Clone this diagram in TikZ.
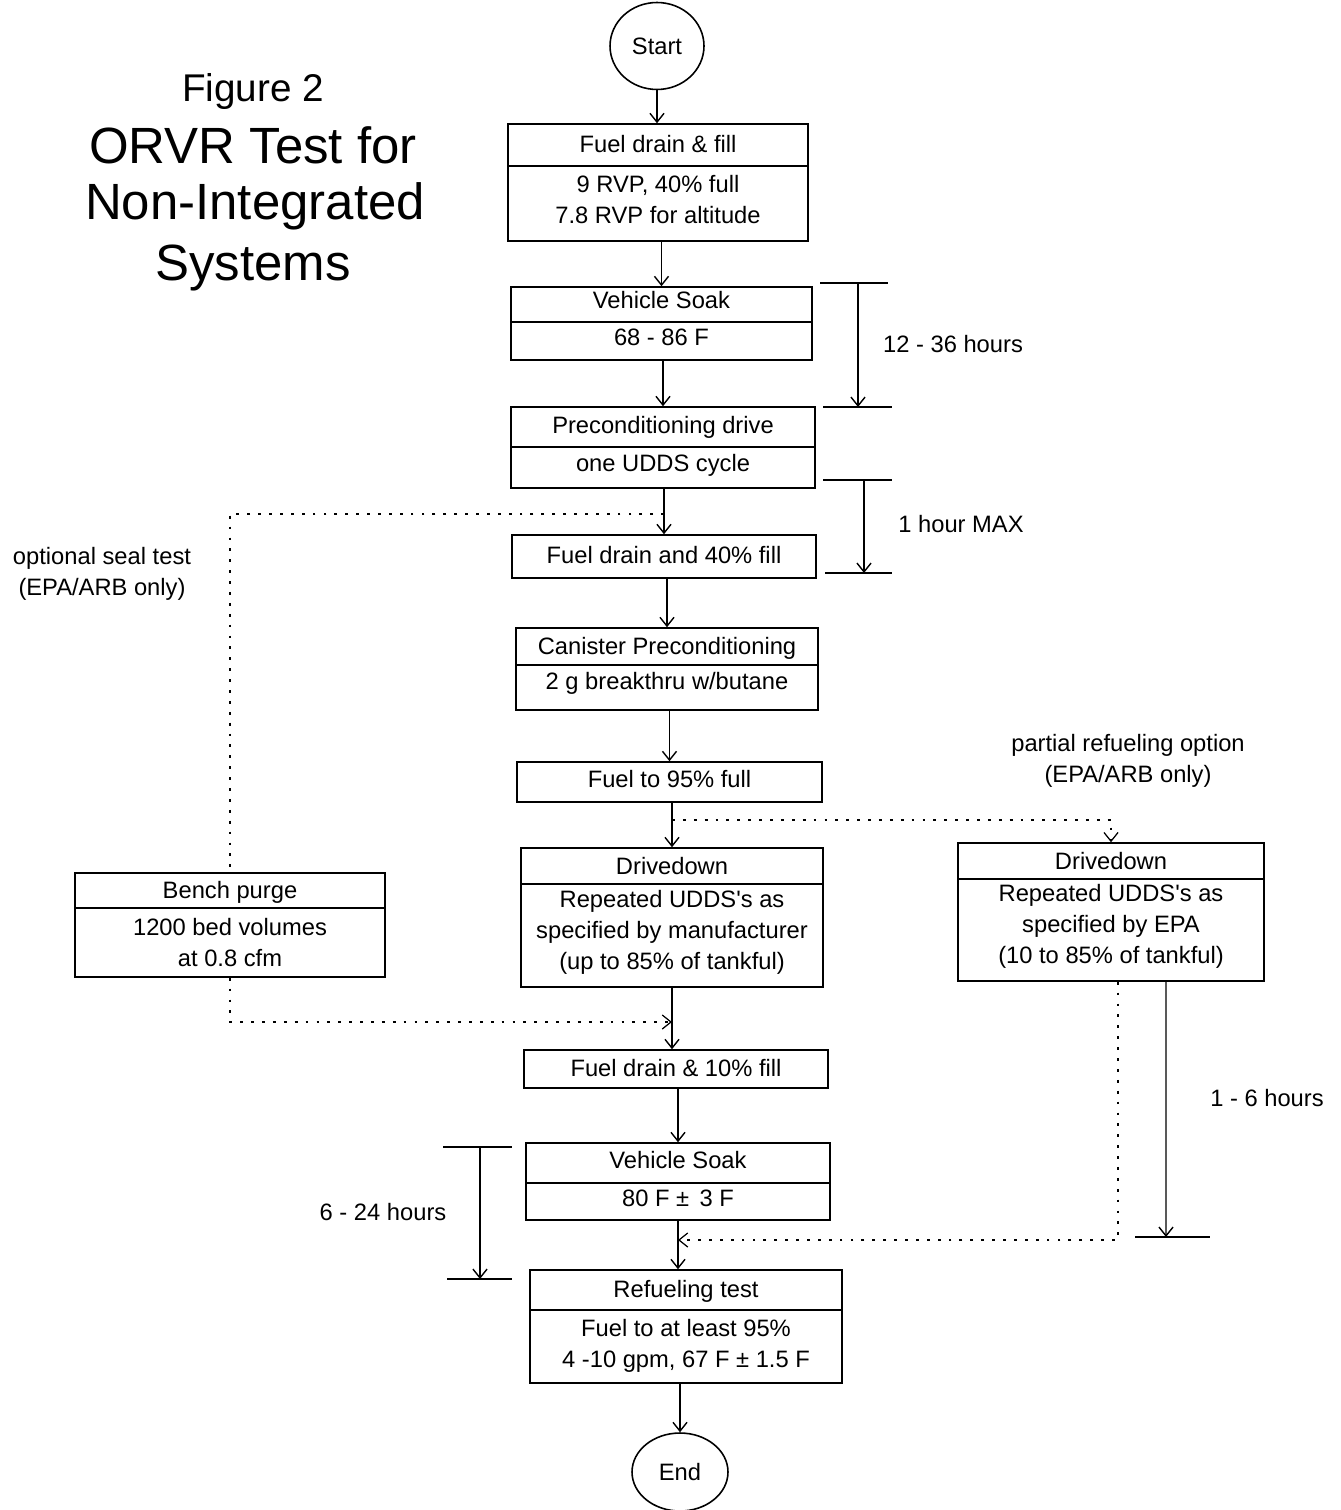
\documentclass[tikz,border=0pt]{standalone}
\usepackage{fontspec}
\setmainfont{Liberation Sans}
\usetikzlibrary{arrows.meta,shapes.geometric}

\tikzset{
  box/.style={draw, line width=0.9pt, inner sep=0pt},
  term/.style={draw, ellipse, line width=0.9pt, inner sep=0pt},
  txt/.style={font=\fontsize{13.5}{17.6}\selectfont, inner sep=0pt, align=center},
  titletxt/.style={font=\fontsize{29}{34}\selectfont, inner sep=0pt},
  flow/.style={line width=0.8pt, -{Straight Barb[length=5pt,width=8pt]}},
  opt/.style={line width=0.9pt, dash pattern=on 1.6pt off 4.6pt},
  optflow/.style={opt, -{Straight Barb[length=5pt,width=8pt,line width=0.7pt]}},
  tick/.style={line width=0.9pt},
  divider/.style={line width=0.9pt}
}

\begin{document}
\begin{tikzpicture}[x=0.02cm, y=-0.02cm]
\useasboundingbox (0,0) rectangle (1340,1510);

% heading
\node[font=\fontsize{22}{26}\selectfont, inner sep=0pt] (fig) at (253,92) {Figure 2};
\node[titletxt] (ttl1) at (253,145) {ORVR Test for};
\node[titletxt] (ttl2) at (255,206) {Non-Integrated};
\node[titletxt] (ttl3) at (253,268) {Systems};

% terminals
\node[term, minimum width=1.88cm, minimum height=1.74cm] (start) at (657,46) {};
\node[txt] (startt) at (start.center) {Start};
\node[term, minimum width=1.92cm, minimum height=1.56cm] (end) at (680,1472) {};
\node[txt] (endt) at (end.center) {End};

% main column boxes
\node[box, minimum width=6.00cm, minimum height=2.34cm] (b1) at (658,182.5) {};
\draw[divider] (b1.west |- 0,166) -- (b1.east |- 0,166);
\node[txt] (h1) at (658,144) {Fuel drain \& fill};
\node[txt] (d1) at (658,199.5) {9 RVP, 40\% full\\7.8 RVP for altitude};

\node[box, minimum width=6.02cm, minimum height=1.46cm] (b2) at (661.5,323.5) {};
\draw[divider] (b2.west |- 0,322) -- (b2.east |- 0,322);
\node[txt] (h2) at (661.5,300) {Vehicle Soak};
\node[txt] (d2) at (661.5,337) {68 - 86 F};

\node[box, minimum width=6.08cm, minimum height=1.62cm] (b3) at (663,447.5) {};
\draw[divider] (b3.west |- 0,447) -- (b3.east |- 0,447);
\node[txt] (h3) at (663,427) {Preconditioning drive};
\node[txt] (d3) at (663,465) {one UDDS cycle};

\node[box, minimum width=6.08cm, minimum height=0.86cm] (b4) at (664,556.5) {};
\node[txt] (h4) at (664,555) {Fuel drain and 40\% fill};

\node[box, minimum width=6.04cm, minimum height=1.64cm] (b5) at (667,669) {};
\draw[divider] (b5.west |- 0,665) -- (b5.east |- 0,665);
\node[txt] (h5) at (667,648) {Canister Preconditioning};
\node[txt] (d5) at (667,683) {2 g breakthru w/butane};

\node[box, minimum width=6.10cm, minimum height=0.80cm] (b6) at (669.5,782) {};
\node[txt] (h6) at (669.5,779) {Fuel to 95\% full};

\node[box, minimum width=6.04cm, minimum height=2.78cm] (b7) at (672,917.5) {};
\draw[divider] (b7.west |- 0,884) -- (b7.east |- 0,884);
\node[txt] (h7) at (672,866) {Drivedown};
\node[txt] (d7) at (672,932.5) {Repeated UDDS\textquotesingle s as\\specified by manufacturer\\(up to 85\% of tankful)};

\node[box, minimum width=6.12cm, minimum height=2.76cm] (b8) at (1111,912) {};
\draw[divider] (b8.west |- 0,879) -- (b8.east |- 0,879);
\node[txt] (h8) at (1111,861) {Drivedown};
\node[txt] (d8) at (1111,926) {Repeated UDDS\textquotesingle s as\\specified by EPA\\(10 to 85\% of tankful)};

\node[box, minimum width=6.20cm, minimum height=2.08cm] (bp) at (230,925) {};
\draw[divider] (bp.west |- 0,908) -- (bp.east |- 0,908);
\node[txt] (hp) at (230,892) {Bench purge};
\node[txt] (dp) at (230,942.5) {1200 bed volumes\\at 0.8 cfm};

\node[box, minimum width=6.08cm, minimum height=0.76cm] (b9) at (676,1069) {};
\node[txt] (h9) at (676,1068) {Fuel drain \& 10\% fill};

\node[box, minimum width=6.08cm, minimum height=1.54cm] (b10) at (678,1181.5) {};
\draw[divider] (b10.west |- 0,1183) -- (b10.east |- 0,1183);
\node[txt] (h10) at (678,1160) {Vehicle Soak};
\node[txt] (d10) at (678,1198) {80 F ± \,3 F};

\node[box, minimum width=6.24cm, minimum height=2.26cm] (b11) at (686,1326.5) {};
\draw[divider] (b11.west |- 0,1310) -- (b11.east |- 0,1310);
\node[txt] (h11) at (686,1291) {Refueling test};
\node[txt] (d11) at (686,1346) {Fuel to at least 95\%\\4 -10 gpm, 67 F ± 1.5 F};

% main flow
\draw[flow] (start.south) -- (start.south |- b1.north);
\draw[flow] (b2.north |- b1.south) -- (b2.north);
\draw[flow] (b3.north |- b2.south) -- (b3.north);
\draw[flow] (b4.north |- b3.south) -- (b4.north);
\draw[flow] (b5.north |- b4.south) -- (b5.north);
\draw[flow] (b6.north |- b5.south) -- (b6.north);
\draw[flow] (b7.north |- b6.south) -- (b7.north);
\draw[flow] (b7.south) -- (b7.south |- b9.north);
\draw[flow] (b10.north |- b9.south) -- (b10.north);
\draw[flow] (b10.south) -- (b10.south |- b11.north);
\draw[flow] (end.north |- b11.south) -- (end.north);

% optional seal test branch
\coordinate (sj) at (b4.north |- 0,514);
\coordinate (bj) at (b7.south |- 0,1022);
\draw[opt] (sj) -| (bp.north);
\draw[optflow] (bp.south) |- (bj);
\node[txt] (sealnote) at (102,574) {optional seal test\\(EPA/ARB only)};

% partial refueling branch
\coordinate (pj) at (b7.north |- 0,820);
\draw[optflow] (pj) -| (b8.north);
\node[txt] (partnote) at (1128,761) {partial refueling option\\(EPA/ARB only)};
\coordinate (rj) at (b10.south |- 0,1240);
\draw[optflow] ([xshift=0.14cm]b8.south) |- (rj);

% time windows
\coordinate (w1a) at (820,283);  \coordinate (w1b) at (888,283);
\coordinate (w1c) at (823,407);  \coordinate (w1d) at (892,407);
\coordinate (w1s) at (858,283);  \coordinate (w1e) at (858,407);
\draw[tick] (w1a) -- (w1b);
\draw[tick] (w1c) -- (w1d);
\draw[flow] (w1s) -- (w1e);
\node[txt] (w1t) at (953,344) {12 - 36 hours};

\coordinate (w2a) at (823,480);  \coordinate (w2b) at (892,480);
\coordinate (w2c) at (825,573);  \coordinate (w2d) at (892,573);
\coordinate (w2s) at (864,480);  \coordinate (w2e) at (864,573);
\draw[tick] (w2a) -- (w2b);
\draw[tick] (w2c) -- (w2d);
\draw[flow] (w2s) -- (w2e);
\node[txt] (w2t) at (961,524) {1 hour MAX};

\coordinate (w3a) at (443,1147); \coordinate (w3b) at (512,1147);
\coordinate (w3c) at (447,1279); \coordinate (w3d) at (512,1279);
\coordinate (w3s) at (480,1147); \coordinate (w3e) at (480,1279);
\draw[tick] (w3a) -- (w3b);
\draw[tick] (w3c) -- (w3d);
\draw[flow] (w3s) -- (w3e);
\node[txt] (w3t) at (383,1212) {6 - 24 hours};

\coordinate (w4a) at (1135,1237); \coordinate (w4b) at (1210,1237);
\coordinate (w4e) at (1166,1237);
\draw[tick] (w4a) -- (w4b);
\draw[flow] ([xshift=1.1cm]b8.south) -- (w4e);
\node[txt] (w4t) at (1267,1098) {1 - 6 hours};
\end{tikzpicture}
\end{document}
